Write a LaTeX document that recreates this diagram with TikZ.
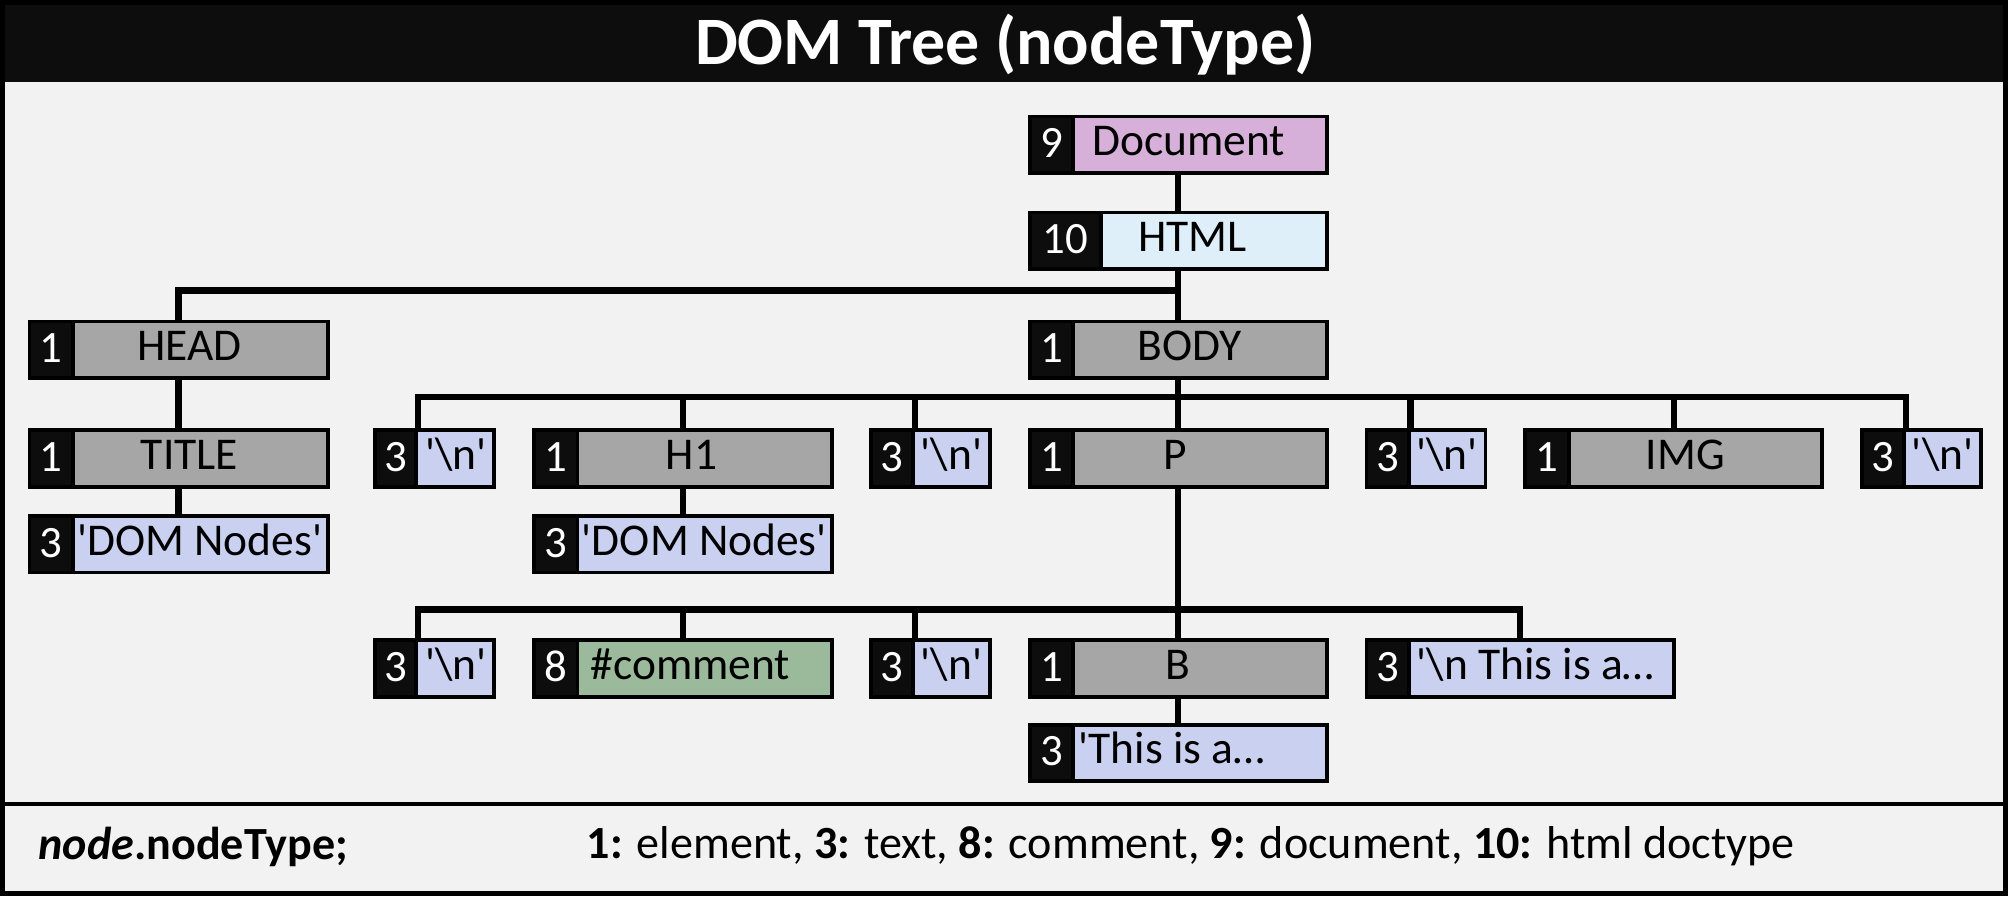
\documentclass[tikz,border=0pt]{standalone}
\usepackage{fontspec}
\setmainfont{Carlito}
\usetikzlibrary{calc}
\definecolor{bgc}{HTML}{F2F2F2}
\definecolor{dark}{HTML}{0D0D0D}
\definecolor{elem}{HTML}{A6A6A6}
\definecolor{txt}{HTML}{CAD0F0}
\definecolor{docc}{HTML}{D6B0D8}
\definecolor{htmlc}{HTML}{DFEFFA}
\definecolor{cmt}{HTML}{9BBA9B}
\pgfdeclarelayer{back}
\pgfdeclarelayer{wires}
\pgfsetlayers{back,wires,main}
\tikzset{
  dbox/.style={draw=black, line width=3pt, inner sep=0pt, minimum height=44pt},
  dnum/.style={draw=black, fill=dark, line width=3pt, inner sep=0pt, minimum height=44pt,
    text=white, font=\fontsize{35}{40}\selectfont, text height=20pt, text depth=0pt},
  dlbl/.style={inner sep=0pt, font=\fontsize{35.5}{40}\selectfont, text height=20pt, text depth=0pt},
  conn/.style={draw=black, line width=5pt},
}
\newcommand\sq{\textquotesingle}
\newcommand\dn[9]{%
  \node[dbox, fill=#7, minimum width=#4pt-3pt, anchor=north west] (#1) at (#2+1.5,#3+1.5) {};
  \node[dnum, minimum width=#5pt-3pt, anchor=north west] (#1n) at (#2+1.5,#3+1.5) {#6};
  \node[dlbl] (#1t) at (#9,#3+23.5) {#8};
}
\begin{document}
\begin{tikzpicture}[x=1pt,y=-1pt]
\useasboundingbox (0,0) rectangle (1568,700);
\begin{pgfonlayer}{back}
  \fill[bgc] (0,0) rectangle (1568,700);
  \fill[dark] (0,0) rectangle (1568,64);
  \draw[line width=3pt] (0,628) -- (1568,628);
  \draw[line width=4pt] (2,2) rectangle (1566,698);
\end{pgfonlayer}
\node[text=white, font=\fontsize{53}{60}\selectfont\bfseries] (ttl) at (785,35) {DOM Tree (nodeType)};

\dn{doc}{801}{88}{235}{37}{9}{docc}{Document}{928}
\dn{html}{801}{163}{235}{59}{10}{htmlc}{HTML}{931}
\dn{head}{20}{248}{236}{37}{1}{elem}{HEAD}{148}
\dn{body}{801}{248}{235}{37}{1}{elem}{BODY}{929}
\dn{title}{20}{333}{236}{37}{1}{elem}{TITLE}{148}
\dn{tdom}{20}{400}{236}{37}{3}{txt}{\sq DOM Nodes\sq}{156}
\dn{ta}{290}{333}{96}{35}{3}{txt}{\sq\textbackslash n\sq}{356}
\dn{hone}{414}{333}{236}{37}{1}{elem}{H1}{540}
\dn{tb}{677}{333}{96}{36}{3}{txt}{\sq\textbackslash n\sq}{743}
\dn{p}{801}{333}{235}{37}{1}{elem}{P}{918}
\dn{tc}{1064}{333}{96}{36}{3}{txt}{\sq\textbackslash n\sq}{1130}
\dn{img}{1188}{333}{235}{37}{1}{elem}{IMG}{1316}
\dn{td}{1451}{333}{96}{36}{3}{txt}{\sq\textbackslash n\sq}{1517}
\dn{hdom}{414}{400}{236}{37}{3}{txt}{\sq DOM Nodes\sq}{550}
\dn{te}{290}{497}{96}{35}{3}{txt}{\sq\textbackslash n\sq}{356}
\dn{cm}{414}{497}{236}{37}{8}{cmt}{\#comment}{539}
\dn{tf}{677}{497}{96}{36}{3}{txt}{\sq\textbackslash n\sq}{743}
\dn{b}{801}{497}{235}{37}{1}{elem}{B}{920}
\dn{tg}{1064}{497}{243}{36}{3}{txt}{\sq\textbackslash n This is a…}{1199}
\dn{bt}{801}{563}{235}{37}{3}{txt}{\sq This is a…}{915}

\coordinate (hb) at (918,227);
\coordinate (bb) at (918,310);
\coordinate (pb) at (918,476);
\begin{pgfonlayer}{wires}
  \draw[conn] (doc.south) -- (html.north);
  \draw[conn] (html.south) -- (body.north);
  \draw[conn] (head.north) |- (hb);
  \draw[conn] (head.south) -- (title.north);
  \draw[conn] (title.south) -- (tdom.north);
  \draw[conn] (body.south) -- (p.north);
  \draw[conn] (tan.north east) |- (bb);
  \draw[conn] (tdn.north east) |- (bb);
  \draw[conn] (hone.north) -- (hone.north |- bb);
  \draw[conn] (tbn.north east) -- (tbn.north east |- bb);
  \draw[conn] (tcn.north east) -- (tcn.north east |- bb);
  \draw[conn] (img.north) -- (img.north |- bb);
  \draw[conn] (hone.south) -- (hdom.north);
  \draw[conn] (p.south) -- (b.north);
  \draw[conn] (ten.north east) |- (pb);
  \draw[conn] (tg.north) |- (pb);
  \draw[conn] (cm.north) -- (cm.north |- pb);
  \draw[conn] (tfn.north east) -- (tfn.north east |- pb);
  \draw[conn] (b.south) -- (bt.north);
\end{pgfonlayer}

\node[anchor=west, inner sep=0pt, font=\fontsize{36}{40}\selectfont\bfseries] (fl) at (30,661) {\textit{node}.nodeType;};
\node[anchor=west, inner sep=0pt, font=\fontsize{36}{40}\selectfont] (fr) at (458,661) {\textbf{1:} element, \textbf{3:} text, \textbf{8:} comment, \textbf{9:} document, \textbf{10:} html doctype};
\end{tikzpicture}
\end{document}
